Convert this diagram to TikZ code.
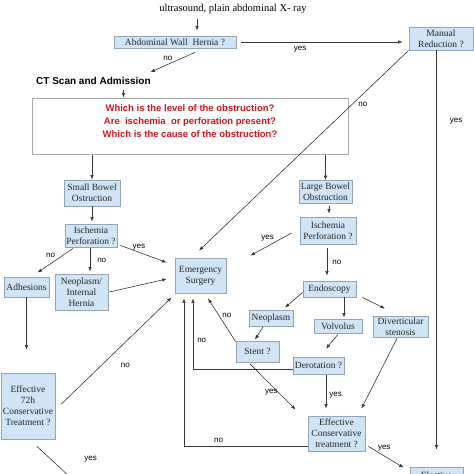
\documentclass[tikz,border=0pt]{standalone}
\usepackage{fontspec}
\setmainfont{Liberation Serif}
\newfontfamily\arialfont{Liberation Sans}
\usetikzlibrary{arrows.meta}

\definecolor{boxfill}{RGB}{208,228,245}
\definecolor{boxline}{RGB}{150,165,182}
\definecolor{linegray}{RGB}{55,55,55}
\definecolor{qred}{RGB}{222,20,28}
\definecolor{qgray}{RGB}{170,170,170}

\begin{document}
\begin{tikzpicture}[
    x=1pt, y=-1pt,
    box/.style={rectangle, draw=boxline, fill=boxfill, line width=0.8pt, align=center, inner sep=0pt, font=\fontsize{9.5}{11}\selectfont, text=black!85},
    lbl/.style={font=\arialfont\fontsize{8}{9}\selectfont, inner sep=1pt},
    arr/.style={draw=linegray, line width=0.6pt, -{Latex[length=4.5pt,width=3.5pt]}},
    plain/.style={draw=linegray, line width=0.6pt}
]
\useasboundingbox (0,0) rectangle (474,474);
\clip (0,0) rectangle (474,474);

% Nodes
\node[font=\fontsize{10.5}{12}\selectfont] (title) at (233,9) {ultrasound, plain abdominal X- ray};
\node[box, minimum width=122pt, minimum height=12pt] (awh) at (175,42) {Abdominal Wall\ \ Hernia ?};
\node[box, minimum width=64pt, minimum height=23pt] (mr) at (441,38.5) {Manual\\Reduction ?};
\node[font=\arialfont\bfseries\fontsize{10}{12}\selectfont, anchor=west, inner sep=0pt] (ct) at (36,81) {CT Scan and Admission};
\node[draw=qgray, line width=1pt, fill=white, minimum width=316pt, minimum height=56pt] (q) at (190,126) {};
\node[font=\arialfont\bfseries\fontsize{9.5}{13}\selectfont, text=qred, align=center] (qtext) at (190,121)
    {Which is the level of the obstruction?\\Are\ \ ischemia\ \ or perforation present?\\Which is the cause of the obstruction?};
\node[box, minimum width=56pt, minimum height=26pt] (sbo) at (92,193) {Small Bowel\\Ostruction};
\node[box, minimum width=52pt, minimum height=23pt] (isch1) at (91,235.5) {Ischemia\\Perforation ?};
\node[box, minimum width=45pt, minimum height=20pt] (adh) at (26.5,287) {Adhesions};
\node[box, minimum width=53pt, minimum height=36pt] (neo1) at (81.5,292) {Neoplasm/\\Internal\\Hernia};
\node[box, minimum width=51pt, minimum height=35pt] (es) at (200.5,275.5) {Emergency\\Surgery};
\node[box, minimum width=53pt, minimum height=23pt] (lbo) at (325.5,192) {Large Bowel\\Obstruction};
\node[box, minimum width=56pt, minimum height=27pt] (isch2) at (328,230.5) {Ischemia\\Perforation ?};
\node[box, minimum width=53pt, minimum height=16pt] (endo) at (329.5,289) {Endoscopy};
\node[box, minimum width=44pt, minimum height=16pt] (neo2) at (271,318.5) {Neoplasm};
\node[box, minimum width=48pt, minimum height=14pt] (volv) at (338,326) {Volvolus};
\node[box, minimum width=55pt, minimum height=21pt] (div) at (400.5,326.5) {Diverticular\\stenosis};
\node[box, minimum width=43pt, minimum height=21pt] (stent) at (257.5,351.5) {Stent ?};
\node[box, minimum width=51pt, minimum height=17pt] (derot) at (318.5,365.5) {Derotation ?};
\node[box, minimum width=57pt, minimum height=35pt] (ect) at (336.5,433.5) {Effective\\Conservative\\treatment ?};
\node[box, minimum width=54pt, minimum height=66pt] (ect72) at (28,406) {Effective\\72h\\Conservative\\Treatment ?};
\node[box, minimum width=53pt, minimum height=30pt] (bot) at (436.5,482) {Elective\\Surgery};
\coordinate (offleft) at (84,490);

% Connections
\draw[arr] ([xshift=-36pt,yshift=-2pt]title.south) -- ([xshift=22pt,yshift=5pt]awh.north);
\draw[arr, shorten <=5pt, shorten >=6pt] (awh.east) -- node[lbl, below=3pt, pos=0.37] {yes} (mr.west |- awh.east);
\draw[arr] ([xshift=20pt,yshift=-4pt]awh.south) -- node[lbl, pos=0.3, left=8pt] {no} ([xshift=57pt,yshift=5pt]ct.north);
\draw[arr, shorten <=5pt] ([xshift=30pt]ct.south) -- ([xshift=30pt]ct.south |- q.north);
\draw[arr] (q.south -| sbo.north) -- (sbo.north);
\draw[arr] (q.south -| lbo.north) -- (lbo.north);
\draw[arr] (mr.south west) -- node[lbl, pos=0.27, right=5pt] {no} ([xshift=-1.5pt,yshift=7pt]es.north);
\draw[arr, shorten >=17pt] (mr.south -| bot.north) -- node[lbl, pos=0.17, right=12pt] {yes} (bot.north);

\draw[arr, shorten >=2pt] (sbo.south) -- (sbo.south |- isch1.north);
\draw[arr] ([xshift=3pt,yshift=2pt]isch1.south east) -- node[lbl, pos=0.4, above=1pt] {yes} ([xshift=-8pt,yshift=13pt]es.west);
\draw[arr] ([xshift=-18pt,yshift=-1pt]isch1.south) -- node[lbl, pos=0.3, left=6pt] {no} ([xshift=11pt,yshift=4pt]adh.north);
\draw[arr, shorten <=1pt, shorten >=2pt] ([xshift=-1pt]isch1.south) -- node[lbl, right=6pt] {no} ([xshift=-1pt]isch1.south |- neo1.north);
\draw[arr] ([xshift=1pt]neo1.east) -- ([xshift=-8pt,yshift=-3.5pt]es.west);
\draw[arr, shorten >=23pt] (adh.south) -- (adh.south |- ect72.north);
\draw[arr] ([xshift=6pt,yshift=2pt]ect72.east) -- node[lbl, pos=0.58, below=20pt] {no} ([xshift=-3pt,yshift=-4pt]es.south west);
\draw[plain] ([xshift=9pt,yshift=-7pt]ect72.south) -- node[lbl, pos=0.3, right=32pt] {yes} (offleft);

\draw[arr, shorten <=2pt, shorten >=3pt] ([xshift=3.5pt]lbo.south) -- ([xshift=3.5pt]lbo.south |- isch2.north);
\draw[arr] ([xshift=-8pt,yshift=-2.5pt]isch2.west) -- node[lbl, pos=0.4, above left=0pt] {yes} ([xshift=24pt,yshift=2pt]es.north east);
\draw[arr, shorten <=4pt, shorten >=5pt] ([xshift=-1pt]isch2.south) -- node[lbl, right=4pt] {no} ([xshift=-1pt]isch2.south |- endo.north);
\draw[arr] ([yshift=5pt]endo.south west) -- ([xshift=14pt,yshift=2.5pt]neo2.north);
\draw[arr, shorten >=1pt] ([xshift=14.5pt]endo.south) -- ([xshift=14.5pt]endo.south |- volv.north);
\draw[arr] ([xshift=6pt]endo.south east) -- ([xshift=-15.5pt,yshift=7pt]div.north);
\draw[arr] ([xshift=-8pt]neo2.south) -- ([xshift=-2.5pt,yshift=1pt]stent.north);
\draw[arr] ([yshift=-1pt]stent.north west) -- node[lbl, pos=0.6, right=2pt] {no} ([xshift=7.5pt,yshift=-5pt]es.south);
\draw[arr] ([yshift=-3.5pt]derot.west) -| node[lbl, pos=0.7, right=3pt] {no} ([xshift=-7.5pt,yshift=-5pt]es.south);
\draw[arr] ([yshift=-12.5pt]ect.west) -| node[lbl, pos=0.36, above=2pt] {no} ([xshift=-16.5pt,yshift=-5pt]es.south);
\draw[arr] ([yshift=-1pt]volv.south) -- ([xshift=7.5pt,yshift=8pt]derot.north);
\draw[arr] ([xshift=-7.5pt,yshift=-1.5pt]stent.south) -- node[lbl, pos=0.62, xshift=-7pt] {yes} ([xshift=-12pt,yshift=6pt]ect.north west);
\draw[arr, shorten <=1pt, shorten >=7pt] ([xshift=7.5pt]derot.south) -- node[lbl, right=2pt] {yes} ([xshift=7.5pt]derot.south |- ect.north);
\draw[arr] ([xshift=-3.5pt,yshift=-1pt]div.south) -- ([xshift=-4pt,yshift=7pt]ect.north east);
\draw[arr] ([xshift=3pt,yshift=5pt]ect.south east) -- node[lbl, pos=0.45, above=3pt] {yes} ([xshift=-6pt,yshift=-1pt]bot.north west);

\end{tikzpicture}
\end{document}
